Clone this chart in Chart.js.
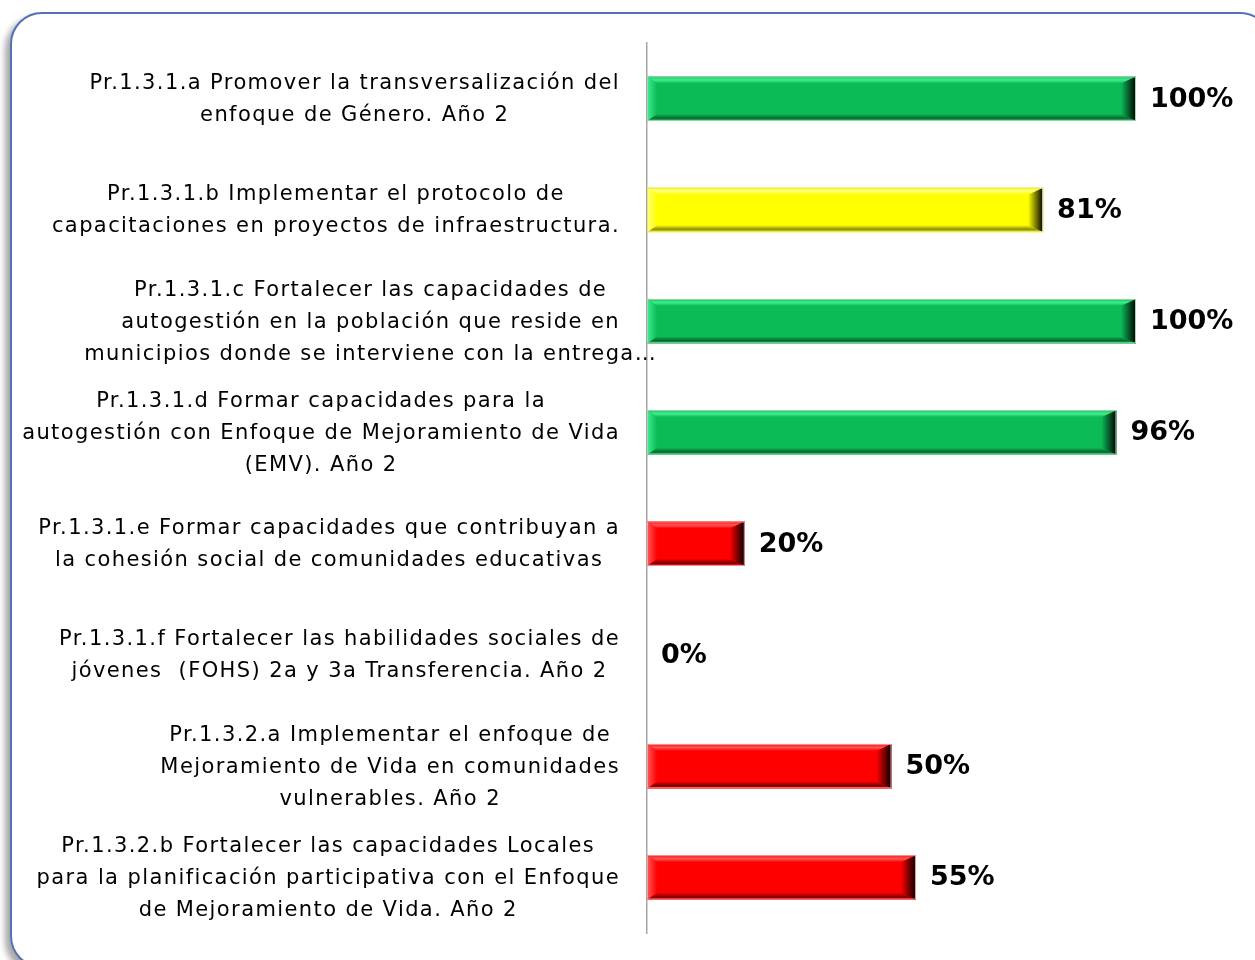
<!DOCTYPE html>
<html lang="es">
<head>
    <meta charset="UTF-8">
    <title>Avance de productos</title>
    <style>
        html, body { margin: 0; padding: 0; background: #fff; overflow: hidden; }
        .stage { position: relative; width: 1255px; height: 960px; }
        .frame {
            position: absolute; left: 10px; top: 12px; width: 1262px; height: 956px;
            border: 2px solid #5272b6; border-radius: 32px; box-sizing: border-box;
            box-shadow: -5px 5px 6px rgba(0, 0, 0, 0.35); background: #fff;
        }
        canvas { position: absolute; left: 0; top: 0; }
    </style>
</head>
<body>
    <div class="stage">
        <div class="frame"></div>
        <canvas id="avance" width="1255" height="960"></canvas>
    </div>

    <script src="https://cdn.jsdelivr.net/npm/chart.js"></script>
    <script>
        // Categorias (cada una en varias lineas, como en la diapositiva)
        const categorias = [
            ['Pr.1.3.1.a Promover la transversalización del', 'enfoque de Género. Año 2'],
            ['Pr.1.3.1.b Implementar el protocolo de', 'capacitaciones en proyectos de infraestructura.'],
            ['Pr.1.3.1.c Fortalecer las capacidades de', 'autogestión en la población que reside en', 'municipios donde se interviene con la entrega…'],
            ['Pr.1.3.1.d Formar capacidades para la', 'autogestión con Enfoque de Mejoramiento de Vida', '(EMV). Año 2'],
            ['Pr.1.3.1.e Formar capacidades que contribuyan a', 'la cohesión social de comunidades educativas'],
            ['Pr.1.3.1.f Fortalecer las habilidades sociales de', 'jóvenes  (FOHS) 2a y 3a Transferencia. Año 2'],
            ['Pr.1.3.2.a Implementar el enfoque de', 'Mejoramiento de Vida en comunidades', 'vulnerables. Año 2'],
            ['Pr.1.3.2.b Fortalecer las capacidades Locales', 'para la planificación participativa con el Enfoque', 'de Mejoramiento de Vida. Año 2']
        ];

        // Porcentaje de avance
        const avance = [100, 81, 100, 96, 20, 0, 50, 55];

        // Semaforo: verde, amarillo, rojo
        const estado = ['verde', 'amarillo', 'verde', 'verde', 'rojo', 'rojo', 'rojo', 'rojo'];

        const colores = {
            verde:    { base: '#0bbb56', luz: '#43ee90', sombra: '#06692f', borde: '#9fd8b4' },
            amarillo: { base: '#ffff00', luz: '#ffff80', sombra: '#8c8c00', borde: '#e0e090' },
            rojo:     { base: '#ff0000', luz: '#ff5a5a', sombra: '#7a0000', borde: '#f0a0a0' }
        };

        const fuente = '"DejaVu Sans", sans-serif';

        // Efecto biselado sobre cada barra ya dibujada por Chart.js
        const bisel = {
            id: 'bisel',
            afterDatasetsDraw(chart) {
                const ctx = chart.ctx;
                chart.getDatasetMeta(0).data.forEach((bar, i) => {
                    const x0 = bar.base, x1 = bar.x;
                    if (x1 - x0 < 2) return;
                    const y0 = bar.y - bar.height / 2, y1 = bar.y + bar.height / 2;
                    const c = colores[estado[i]];
                    const bT = 7, bB = 7, bL = 10, bR = 15;

                    ctx.save();
                    // franja superior clara
                    let g = ctx.createLinearGradient(0, y0, 0, y0 + bT);
                    g.addColorStop(0, c.base);
                    g.addColorStop(0.5, c.luz);
                    g.addColorStop(1, c.base);
                    ctx.fillStyle = g;
                    ctx.beginPath();
                    ctx.moveTo(x0, y0); ctx.lineTo(x1, y0);
                    ctx.lineTo(x1 - bR, y0 + bT); ctx.lineTo(x0 + bL, y0 + bT);
                    ctx.closePath(); ctx.fill();

                    // franja inferior oscura
                    g = ctx.createLinearGradient(0, y1 - bB, 0, y1);
                    g.addColorStop(0, c.base);
                    g.addColorStop(0.6, c.sombra);
                    g.addColorStop(1, c.base);
                    ctx.fillStyle = g;
                    ctx.beginPath();
                    ctx.moveTo(x0, y1); ctx.lineTo(x1, y1);
                    ctx.lineTo(x1 - bR, y1 - bB); ctx.lineTo(x0 + bL, y1 - bB);
                    ctx.closePath(); ctx.fill();

                    // extremo derecho oscuro
                    g = ctx.createLinearGradient(x1 - bR, 0, x1, 0);
                    g.addColorStop(0, c.base);
                    g.addColorStop(1, '#000');
                    ctx.fillStyle = g;
                    ctx.beginPath();
                    ctx.moveTo(x1, y0); ctx.lineTo(x1, y1);
                    ctx.lineTo(x1 - bR, y1 - bB); ctx.lineTo(x1 - bR, y0 + bT);
                    ctx.closePath(); ctx.fill();

                    // extremo izquierdo claro
                    g = ctx.createLinearGradient(x0, 0, x0 + bL, 0);
                    g.addColorStop(0, c.luz);
                    g.addColorStop(1, c.base);
                    ctx.fillStyle = g;
                    ctx.beginPath();
                    ctx.moveTo(x0, y0); ctx.lineTo(x0, y1);
                    ctx.lineTo(x0 + bL, y1 - bB); ctx.lineTo(x0 + bL, y0 + bT);
                    ctx.closePath(); ctx.fill();

                    ctx.strokeStyle = c.borde;
                    ctx.lineWidth = 1;
                    ctx.strokeRect(x0 + 0.5, y0 + 0.5, x1 - x0 - 1, y1 - y0 - 1);
                    ctx.restore();
                });
            }
        };

        // Etiquetas de categoria centradas por bloque y porcentajes al final de la barra
        const textos = {
            id: 'textos',
            afterDraw(chart) {
                const ctx = chart.ctx;
                const yScale = chart.scales.y;
                const bordeDer = yScale.right - 27;
                const alto = 32;
                ctx.save();
                ctx.fillStyle = '#000';
                ctx.textBaseline = 'middle';
                ctx.textAlign = 'center';
                ctx.font = '21px ' + fuente;
                ctx.letterSpacing = '1.4px';
                categorias.forEach((lineas, i) => {
                    const yc = yScale.getPixelForValue(i) + 1;
                    const anchos = lineas.filter(l => !l.endsWith('…')).map(l => ctx.measureText(l).width);
                    const cx = bordeDer - Math.min(Math.max(...anchos), 620) / 2;
                    lineas.forEach((l, k) => {
                        ctx.fillText(l, cx, yc + (k - (lineas.length - 1) / 2) * alto);
                    });
                });

                ctx.textAlign = 'left';
                ctx.font = 'bold 27px ' + fuente;
                ctx.letterSpacing = '0px';
                chart.getDatasetMeta(0).data.forEach((bar, i) => {
                    ctx.fillText(avance[i] + '%', bar.x + 14, bar.y + 1);
                });
                ctx.restore();
            }
        };

        new Chart(document.getElementById('avance').getContext('2d'), {
            type: 'bar',
            data: {
                labels: categorias,
                datasets: [{
                    data: avance,
                    backgroundColor: estado.map(e => colores[e].base),
                    borderWidth: 0,
                    barPercentage: 0.8,
                    categoryPercentage: 0.5
                }]
            },
            options: {
                indexAxis: 'y',
                responsive: false,
                animation: false,
                layout: { padding: { left: 0, top: 43, right: 119, bottom: 27 } },
                plugins: { legend: { display: false }, tooltip: { enabled: false } },
                scales: {
                    x: { display: false, min: 0, max: 100 },
                    y: {
                        grid: { display: false },
                        border: { display: true, color: '#a6a6a6', width: 1.5 },
                        ticks: { display: false },
                        afterFit(scale) { scale.width = 647; }
                    }
                }
            },
            plugins: [bisel, textos]
        });
    </script>
</body>
</html>
